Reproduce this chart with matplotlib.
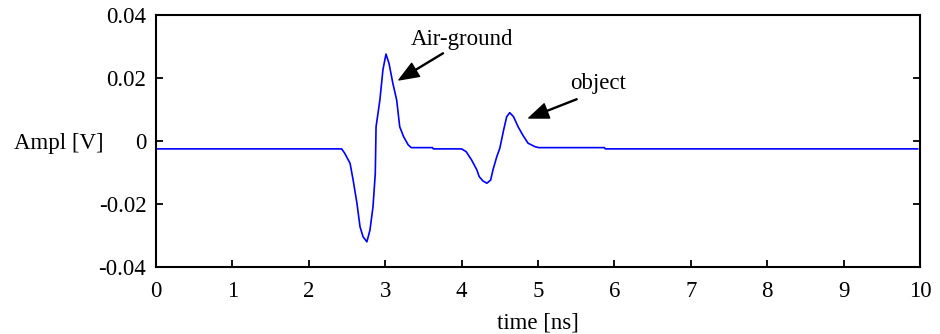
import matplotlib
matplotlib.use("Agg")
import matplotlib.pyplot as plt

plt.rcParams['font.family'] = ['Liberation Serif', 'DejaVu Serif']

time_ns = [0.0, 2.43, 2.47, 2.54, 2.58, 2.63, 2.67, 2.71, 2.76, 2.80, 2.84, 2.87,
           2.88, 2.93, 2.97, 3.01, 3.05, 3.10, 3.15, 3.19, 3.24, 3.30, 3.34, 3.62,
           3.63, 4.00, 4.06, 4.13, 4.20, 4.23, 4.28, 4.33, 4.38, 4.41, 4.46, 4.50,
           4.55, 4.59, 4.63, 4.68, 4.74, 4.80, 4.87, 4.96, 5.01, 5.87, 5.88, 9.97]
ampl_v = [-0.0026, -0.0026, -0.0040, -0.0072, -0.0125, -0.0199, -0.0273, -0.0305,
          -0.0321, -0.0284, -0.0210, -0.0104, 0.0044, 0.0129, 0.0225, 0.0275,
          0.0245, 0.0182, 0.0129, 0.0044, 0.0013, -0.0013, -0.0022, -0.0022,
          -0.0026, -0.0026, -0.0035, -0.0061, -0.0093, -0.0114, -0.0128, -0.0135,
          -0.0125, -0.0093, -0.0051, -0.0024, 0.0034, 0.0076, 0.0089, 0.0076,
          0.0044, 0.0018, -0.0008, -0.0019, -0.0022, -0.0022, -0.0026, -0.0026]

x_ticks = [0, 1, 2, 3, 4, 5, 6, 7, 8, 9, 10]
y_ticks = [-0.04, -0.02, 0, 0.02, 0.04]
y_tick_labels = ['-0.04', '-0.02', '0', '0.02', '0.04']

FS = 16.5

fig = plt.figure(figsize=(9.4, 3.34), dpi=100)
ax = fig.add_axes([0.166, 0.2015, 0.8127, 0.7545])
ax.plot(time_ns, ampl_v, color='#0000ff', lw=1.2, solid_joinstyle='round')
ax.set_xlim(0, 10)
ax.set_ylim(-0.04, 0.04)
ax.set_xticks(x_ticks)
ax.set_xticklabels([str(t) for t in x_ticks])
ax.set_yticks(y_ticks)
ax.set_yticklabels(y_tick_labels)
ax.tick_params(direction='in', length=5, width=1.3, labelsize=FS, right=True)
ax.tick_params(axis='x', pad=10)
ax.tick_params(axis='y', pad=7)
for s in ax.spines.values():
    s.set_linewidth(1.5)
ax.set_xlabel('time [ns]', fontsize=FS, labelpad=8)
ax.set_ylabel('Ampl [V]', fontsize=FS, rotation=0, ha='right', va='center')
ax.yaxis.set_label_coords(-0.069, 0.49)

arrow = dict(facecolor='black', edgecolor='black', width=0.7, headwidth=11,
             headlength=14, shrink=0)
ax.annotate('', xy=(3.18, 0.0193), xytext=(3.76, 0.0278), arrowprops=arrow)
ax.text(4.0, 0.032, 'Air-ground', fontsize=FS, ha='center', va='center')
ax.annotate('', xy=(4.88, 0.0072), xytext=(5.51, 0.0132), arrowprops=arrow)
ax.text(5.79, 0.0183, 'object', fontsize=FS, ha='center', va='center')

fig.savefig('out.png', dpi=100)
